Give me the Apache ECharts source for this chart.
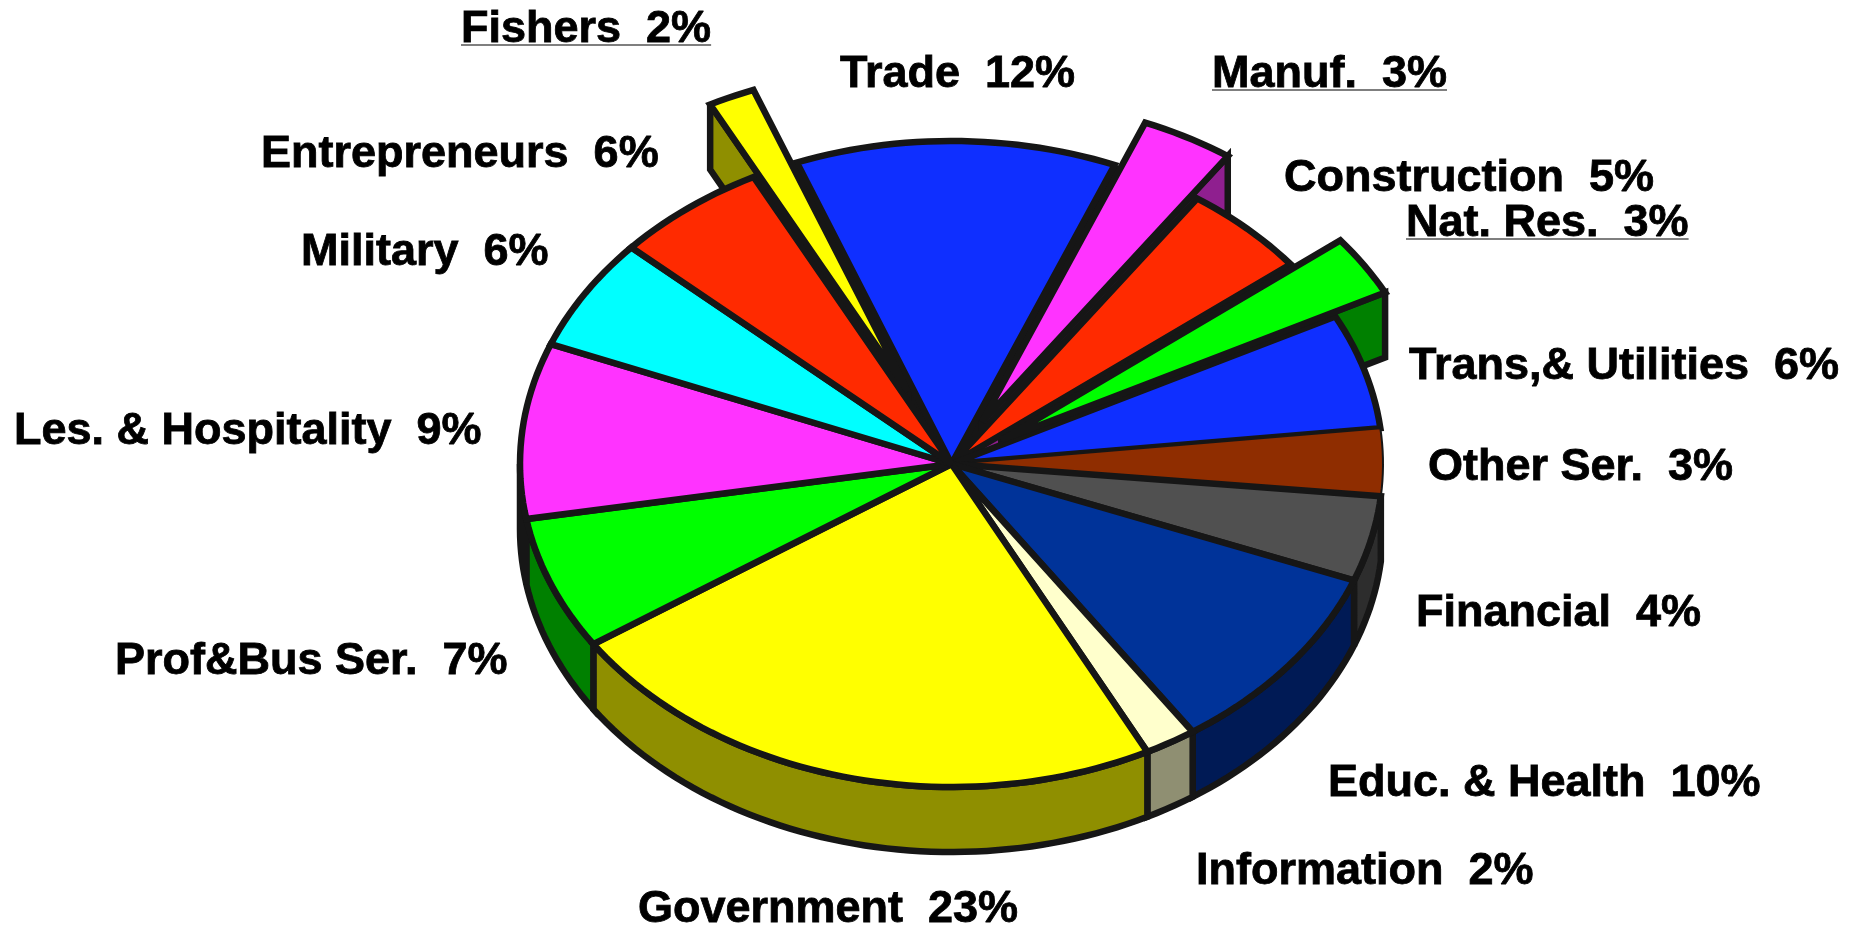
<!DOCTYPE html>
<html><head><meta charset="utf-8">
<style>html,body{margin:0;padding:0;background:#fff}#c{width:1864px;height:928px}</style>
<script src="https://cdn.jsdelivr.net/npm/echarts@6/dist/echarts.min.js"></script>
</head><body><div id="c"></div>
<script>
// --- data ---
const categories = ['Trade','Manuf.','Construction','Nat. Res.','Trans,& Utilities','Other Ser.','Financial','Educ. & Health','Information','Government','Prof&Bus Ser.','Les. & Hospitality','Military','Entrepreneurs','Fishers'];
const sliceShares = [12.0,3.47,4.75,3.06,5.78,3.36,4.28,9.69,1.94,23.08,6.69,8.78,5.64,5.72,1.75];
const percentLabels = [12,3,5,3,6,3,4,10,2,23,7,9,6,6,2];
const explodeAmounts = [0,0.149,0,0.137,0,0,0,0,0,0,0,0,0,0,0.246];

// --- styling and layout ---
const topColors = ['#0f2fff','#ff33ff','#ff2a00','#00ff00','#0f2fff','#8f2d00','#505050','#003399','#ffffcc','#ffff00','#00ff00','#ff33ff','#00ffff','#ff2a00','#ffff00'];
const sideColors = ['#08198f','#8f1f8f','#8f1700','#008000','#08198f','#501900','#2d2d2d','#001a55','#8f8f72','#8f8f00','#008000','#8f1f8f','#008f8f','#8f1700','#8f8f00'];
const strokeWidths = [6.5,6.5,6.5,6.5,6.5,2,6.5,6.5,6.5,6.5,6.5,6.5,6.5,6.5,6.5];
const hasSideWall = [0,0,0,0,0,0,1,1,1,1,1,1,0,0,0];
const labelLeft = [840,1212,1284,1406,1409,1428,1416,1328,1196,638,115,14,301,261,461];
const labelMidY = [75,75,179,224,367,468,614,784,872,910,662,432,253,155,30];
const underlined = [false,true,false,true,false,false,false,false,false,false,false,false,false,false,true];
const CX = 951.5, CY = 464, RX = 431.5, RY = 323, DEPTH = 65, START = 339;
const INK = '#161616', FONT = 'bold 45px "Liberation Sans", Arial, sans-serif';

const total = sliceShares.reduce((a, b) => a + b, 0);
const bounds = [];
let acc = START;
sliceShares.forEach(v => { const a0 = acc; acc += v / total * 360; bounds.push([a0, acc]); });

function pt(deg, ox, oy, dy) {
  const r = deg * Math.PI / 180;
  return [CX + ox + RX * Math.sin(r), CY + oy + dy - RY * Math.cos(r)];
}
function offset(i) {
  const m = (bounds[i][0] + bounds[i][1]) / 2 * Math.PI / 180;
  return [explodeAmounts[i] * RX * Math.sin(m), -explodeAmounts[i] * RY * Math.cos(m)];
}
function arc(a0, a1, ox, oy, dy) {
  const out = [], n = Math.max(2, Math.ceil((a1 - a0) / 1.5));
  for (let k = 0; k <= n; k++) out.push(pt(a0 + (a1 - a0) * k / n, ox, oy, dy));
  return out;
}
function sector(i, ox, oy) {
  return [[CX + ox, CY + oy]].concat(arc(bounds[i][0], bounds[i][1], ox, oy, 0));
}
function poly(points, fill, width) {
  return {
    type: 'polygon', shape: { points: points },
    style: { fill: fill, stroke: width ? INK : null, lineWidth: width || 0, lineJoin: 'miter', miterLimit: 3 }
  };
}
function layer(z, draw) {
  return {
    type: 'custom', coordinateSystem: 'none', silent: true, z: z, animation: false,
    data: sliceShares.map((v, i) => [v, i]),
    renderItem: (p) => draw(p.dataIndex) || { type: 'group', children: [] }
  };
}
const slotLayer = layer(1, i => explodeAmounts[i] ? poly(sector(i, 0, 0), INK, 0) : null);
const wallLayer = layer(2, i => {
  if (!explodeAmounts[i]) return null;
  const [ox, oy] = offset(i);
  const edge = (bounds[i][0] + bounds[i][1]) / 2 % 360 > 180 ? bounds[i][0] : bounds[i][1];
  const a = [CX + ox, CY + oy], b = pt(edge, ox, oy, 0);
  return poly([a, b, [b[0], b[1] + DEPTH], [a[0], a[1] + DEPTH]], sideColors[i], strokeWidths[i]);
});
const sideLayer = layer(3, i => {
  if (!hasSideWall[i]) return null;
  let a0 = bounds[i][0] % 360, a1 = a0 + (bounds[i][1] - bounds[i][0]);
  a0 = Math.max(a0, 90); a1 = Math.min(a1, 270);
  if (a1 <= a0) return null;
  const t = arc(a0, a1, 0, 0, 0), b = arc(a0, a1, 0, 0, DEPTH).reverse();
  return poly(t.concat(b), sideColors[i], 6.5);
});
const topLayer = layer(4, i => explodeAmounts[i] ? null : poly(sector(i, 0, 0), topColors[i], strokeWidths[i]));
const popLayer = layer(5, i => {
  if (!explodeAmounts[i]) return null;
  const [ox, oy] = offset(i);
  return poly(sector(i, ox, oy), topColors[i], strokeWidths[i]);
});
const labelLayer = layer(6, i => {
  const text = categories[i] + '  ' + percentLabels[i] + '%';
  const children = [{
    type: 'text',
    style: { x: labelLeft[i], y: labelMidY[i], text: text, font: FONT, fill: '#000', stroke: '#000', lineWidth: 0.8, align: 'left', verticalAlign: 'middle' }
  }];
  if (underlined[i]) {
    const w = echarts.format.getTextRect ? echarts.format.getTextRect(text, FONT).width : text.length * 22;
    children.push({
      type: 'line',
      shape: { x1: labelLeft[i], y1: labelMidY[i] + 15, x2: labelLeft[i] + w, y2: labelMidY[i] + 15 },
      style: { stroke: '#555', lineWidth: 1.5 }
    });
  }
  return { type: 'group', children: children };
});

const chart = echarts.init(document.getElementById('c'), null, { renderer: 'canvas' });
chart.setOption({
  backgroundColor: '#fff', animation: false,
  series: [slotLayer, wallLayer, sideLayer, topLayer, popLayer, labelLayer]
});
</script></body></html>
